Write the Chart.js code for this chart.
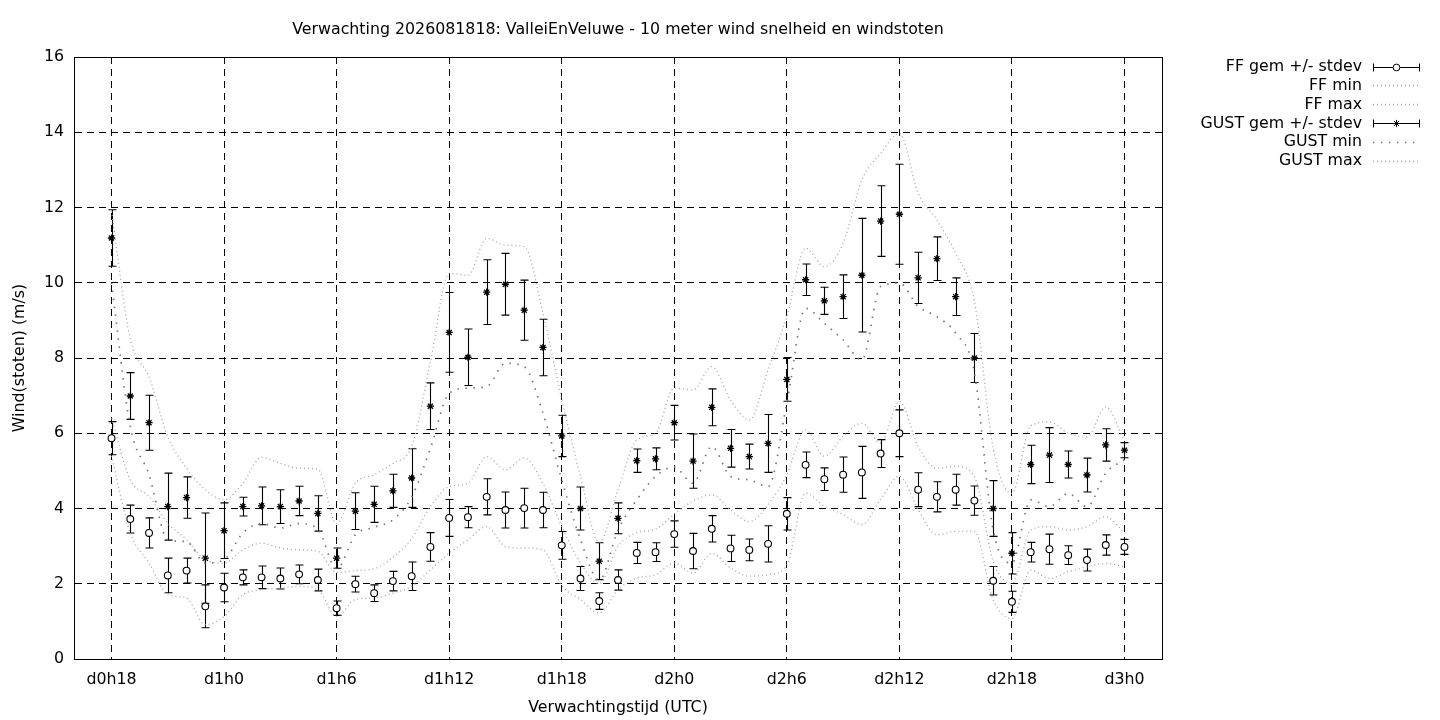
<!DOCTYPE html>
<html>
<head>
<meta charset="utf-8">
<title>Verwachting 2026081818 ValleiEnVeluwe</title>
<script src="https://cdn.jsdelivr.net/npm/chart.js@4.4.1/dist/chart.umd.min.js"></script>
<style>
  html, body { margin: 0; padding: 0; background: #fff; }
  #wrap { width: 1440px; height: 720px; }
</style>
</head>
<body>
<div id="wrap"><canvas id="chartWind" width="1440" height="720"></canvas></div>
<script>
// uren vanaf d0h0
const hours = [18, 19, 20, 21, 22, 23, 24, 25, 26, 27, 28, 29, 30, 31, 32, 33, 34, 35, 36, 37,
    38, 39, 40, 41, 42, 43, 44, 45, 46, 47, 48, 49, 50, 51, 52, 53, 54, 55, 56, 57,
    58, 59, 60, 61, 62, 63, 64, 65, 66, 67, 68, 69, 70, 71, 72];
const tickHours = [18, 24, 30, 36, 42, 48, 54, 60, 66, 72];
const tickLabels = ["d0h18", "d1h0", "d1h6", "d1h12", "d1h18", "d2h0", "d2h6", "d2h12", "d2h18", "d3h0"];

const ffMean = [5.87, 3.72, 3.35, 2.22, 2.35, 1.40, 1.90, 2.17, 2.17, 2.14,
    2.25, 2.10, 1.35, 1.99, 1.75, 2.07, 2.20, 2.98, 3.75, 3.77,
    4.31, 3.96, 4.01, 3.96, 3.02, 2.14, 1.54, 2.10, 2.82, 2.84,
    3.32, 2.87, 3.46, 2.94, 2.90, 3.06, 3.86, 5.16, 4.78, 4.90,
    4.96, 5.46, 6.00, 4.50, 4.31, 4.50, 4.21, 2.08, 1.52, 2.84,
    2.92, 2.76, 2.63, 3.03, 2.98];
const ffSd = [0.44, 0.37, 0.40, 0.46, 0.33, 0.57, 0.38, 0.20, 0.30, 0.28,
    0.25, 0.29, 0.19, 0.21, 0.22, 0.26, 0.38, 0.38, 0.49, 0.28,
    0.48, 0.48, 0.53, 0.47, 0.37, 0.32, 0.22, 0.27, 0.28, 0.25,
    0.35, 0.47, 0.35, 0.35, 0.29, 0.48, 0.43, 0.34, 0.30, 0.47,
    0.69, 0.37, 0.62, 0.45, 0.40, 0.41, 0.39, 0.38, 0.28, 0.26,
    0.40, 0.25, 0.29, 0.27, 0.20];
const ffMin = [5.40, 3.35, 2.55, 1.71, 1.62, 0.91, 1.13, 1.71, 1.84, 1.88,
    1.93, 1.85, 1.13, 1.58, 1.62, 1.75, 1.93, 2.37, 2.81, 3.17,
    3.52, 2.99, 2.95, 2.90, 1.95, 1.58, 1.22, 1.84, 2.15, 2.24,
    2.55, 2.28, 2.81, 2.42, 2.20, 2.24, 2.50, 4.41, 4.06, 3.84,
    3.57, 4.24, 4.86, 3.97, 3.30, 3.39, 3.39, 1.57, 1.08, 2.36,
    2.14, 2.32, 2.45, 2.54, 2.45];
const ffMax = [6.40, 4.76, 4.32, 3.61, 3.17, 2.64, 2.55, 2.90, 3.08, 2.95,
    2.90, 2.86, 2.30, 2.35, 2.40, 2.70, 3.20, 4.05, 4.58, 4.67,
    5.38, 5.03, 5.34, 4.67, 3.52, 2.55, 2.00, 3.00, 3.35, 3.45,
    3.85, 4.20, 4.36, 3.96, 3.65, 4.10, 4.90, 6.09, 5.39, 5.92,
    6.27, 5.74, 6.85, 5.65, 5.07, 5.12, 4.85, 2.60, 2.00, 3.43,
    3.52, 3.43, 3.52, 3.78, 3.35];

const gustMean = [11.19, 6.99, 6.28, 4.05, 4.29, 2.68, 3.41, 4.05, 4.07, 4.05,
    4.20, 3.87, 2.68, 3.93, 4.11, 4.47, 4.81, 6.72, 8.68, 8.02,
    9.75, 9.96, 9.27, 8.28, 5.93, 4.00, 2.60, 3.74, 5.27, 5.32,
    6.28, 5.26, 6.69, 5.60, 5.38, 5.73, 7.43, 10.08, 9.52, 9.63,
    10.20, 11.64, 11.82, 10.13, 10.64, 9.63, 8.00, 4.00, 2.81, 5.17,
    5.42, 5.17, 4.89, 5.69, 5.55];
const gustSd = [0.75, 0.62, 0.73, 0.89, 0.55, 1.20, 0.74, 0.25, 0.50, 0.45,
    0.39, 0.47, 0.27, 0.49, 0.48, 0.44, 0.78, 0.62, 1.06, 0.75,
    0.86, 0.82, 0.80, 0.75, 0.55, 0.57, 0.49, 0.41, 0.31, 0.29,
    0.46, 0.72, 0.49, 0.50, 0.33, 0.77, 0.58, 0.42, 0.36, 0.58,
    1.51, 0.94, 1.33, 0.68, 0.58, 0.50, 0.65, 0.74, 0.55, 0.51,
    0.73, 0.36, 0.45, 0.43, 0.20];
const gustMin = [10.00, 6.18, 4.90, 3.17, 3.12, 2.55, 2.64, 3.35, 3.60, 3.48,
    3.60, 3.45, 2.40, 3.30, 3.50, 3.70, 4.30, 5.60, 7.06, 7.20,
    7.24, 7.86, 7.77, 6.53, 4.76, 3.17, 2.10, 3.43, 4.23, 4.85,
    5.10, 4.67, 5.65, 4.85, 4.76, 4.58, 6.80, 9.32, 8.92, 8.48,
    7.95, 9.90, 9.99, 9.37, 9.10, 8.66, 7.60, 3.43, 2.55, 4.23,
    4.05, 4.40, 4.05, 4.94, 5.30];
const gustMax = [11.90, 8.50, 7.50, 5.91, 5.07, 4.50, 4.23, 4.67, 5.36, 5.20,
    5.07, 5.04, 3.60, 4.67, 4.90, 5.20, 5.65, 7.90, 10.25, 10.20,
    11.18, 11.00, 10.96, 9.19, 6.90, 4.85, 3.10, 4.50, 5.82, 6.00,
    7.20, 7.15, 7.77, 6.88, 6.35, 7.68, 9.10, 10.92, 10.43, 11.05,
    12.73, 13.44, 13.97, 12.38, 11.67, 10.78, 9.50, 5.60, 4.40, 6.20,
    6.30, 6.00, 5.90, 6.70, 5.80];

const legendLabels = ["FF gem +/- stdev", "FF min", "FF max", "GUST gem +/- stdev", "GUST min", "GUST max"];
const chartTitle = "Verwachting 2026081818: ValleiEnVeluwe - 10 meter wind snelheid en windstoten";

const FONT = { family: "'DejaVu Sans', sans-serif", size: 15.8 };
const FONT_CSS = "15.8px 'DejaVu Sans', sans-serif";
const lightDots = { color: '#a4a4a4', dash: [1, 3], width: 1.3 };
const darkDots = { color: '#777777', dash: [1.5, 6.5], width: 1.7 };
const CAP = 4;

const pts = (vals) => hours.map((h, i) => ({ x: h, y: vals[i] }));

const meanSet = (label, vals, style, radius, bw) => ({
    label: label,
    data: pts(vals),
    showLine: false,
    pointStyle: style,
    pointRadius: radius,
    pointBackgroundColor: '#fff',
    pointBorderColor: '#000',
    pointBorderWidth: bw,
    borderColor: '#000',
});

const envSet = (label, vals, st) => ({
    label: label,
    data: pts(vals),
    borderColor: st.color,
    borderWidth: st.width,
    borderDash: st.dash,
    pointRadius: 0,
    fill: false,
    cubicInterpolationMode: 'monotone',
});

// error bars (gem +/- stdev), drawn under the markers
const errorBars = {
    id: 'errorBars',
    beforeDatasetsDraw(chart) {
        const { ctx, chartArea, scales: { x, y } } = chart;
        ctx.save();
        ctx.beginPath();
        ctx.rect(chartArea.left, chartArea.top, chartArea.width, chartArea.height);
        ctx.clip();
        ctx.strokeStyle = '#000';
        ctx.lineWidth = 1.1;
        [[ffMean, ffSd], [gustMean, gustSd]].forEach(([m, s]) => {
            hours.forEach((h, i) => {
                const px = Math.round(x.getPixelForValue(h)) + 0.5;
                const top = y.getPixelForValue(m[i] + s[i]);
                const bot = y.getPixelForValue(m[i] - s[i]);
                ctx.beginPath();
                ctx.moveTo(px, top); ctx.lineTo(px, bot);
                ctx.moveTo(px - CAP, top); ctx.lineTo(px + CAP, top);
                ctx.moveTo(px - CAP, bot); ctx.lineTo(px + CAP, bot);
                ctx.stroke();
            });
        });
        ctx.restore();
    }
};

// frame, title and gnuplot style key
const decorations = {
    id: 'decorations',
    afterDraw(chart) {
        const { ctx, chartArea: a } = chart;
        ctx.save();
        ctx.strokeStyle = '#000';
        ctx.lineWidth = 1;
        ctx.setLineDash([]);
        ctx.strokeRect(Math.round(a.left) + 0.5, Math.round(a.top) + 0.5,
            Math.round(a.width), Math.round(a.height));

        ctx.fillStyle = '#000';
        ctx.font = FONT_CSS;
        ctx.textBaseline = 'middle';
        ctx.textAlign = 'center';
        ctx.fillText(chartTitle, (a.left + a.right) / 2, a.top - 27);

        const tx = a.right + 200, x0 = a.right + 211, x1 = a.right + 258;
        const styles = [null, lightDots, lightDots, null, darkDots, lightDots];
        const marks = ['circle', null, null, 'star', null, null];
        legendLabels.forEach((lab, i) => {
            const ly = a.top + 9.5 + i * 18.8;
            ctx.fillStyle = '#000';
            ctx.textAlign = 'right';
            ctx.fillText(lab, tx, ly + 0.5);
            const yy = Math.round(ly) + 0.5;
            if (styles[i]) {
                ctx.strokeStyle = styles[i].color;
                ctx.lineWidth = styles[i].width;
                ctx.setLineDash(styles[i].dash);
                ctx.beginPath(); ctx.moveTo(x0, yy); ctx.lineTo(x1, yy); ctx.stroke();
                ctx.setLineDash([]);
            } else {
                ctx.strokeStyle = '#000';
                ctx.lineWidth = 1;
                ctx.beginPath();
                ctx.moveTo(x0, yy); ctx.lineTo(x1, yy);
                ctx.moveTo(x0 + 0.5, yy - CAP); ctx.lineTo(x0 + 0.5, yy + CAP);
                ctx.moveTo(x1 - 0.5, yy - CAP); ctx.lineTo(x1 - 0.5, yy + CAP);
                ctx.stroke();
                ctx.fillStyle = '#fff';
                Chart.helpers.drawPoint(ctx, { pointStyle: marks[i], radius: marks[i] === 'star' ? 3.6 : 3.4, borderWidth: 1.1, rotation: 0 }, (x0 + x1) / 2, yy);
            }
        });
        ctx.restore();
    }
};

const ctxWind = document.getElementById("chartWind");
if (ctxWind) {
    new Chart(ctxWind, {
        type: 'line',
        data: {
            datasets: [
                envSet(legendLabels[1], ffMin, lightDots),
                envSet(legendLabels[2], ffMax, lightDots),
                envSet(legendLabels[4], gustMin, darkDots),
                envSet(legendLabels[5], gustMax, lightDots),
                meanSet(legendLabels[0], ffMean, 'circle', 3.4, 1.1),
                meanSet(legendLabels[3], gustMean, 'star', 3.6, 1.3),
            ],
        },
        options: {
            responsive: false,
            devicePixelRatio: 1,
            animation: false,
            events: [],
            layout: { padding: { top: 57, right: 278, left: 0, bottom: 0 } },
            plugins: {
                legend: { display: false },
                title: { display: false },
                tooltip: { enabled: false },
            },
            scales: {
                x: {
                    type: 'linear',
                    min: 16,
                    max: 74,
                    afterBuildTicks: (s) => { s.ticks = tickHours.map(v => ({ value: v })); },
                    afterFit: (s) => { s.height = 61; },
                    ticks: {
                        callback: (v) => tickLabels[tickHours.indexOf(v)],
                        color: '#000',
                        font: FONT,
                        padding: 11,
                        maxRotation: 0,
                        autoSkip: false,
                    },
                    grid: { color: '#000', lineWidth: 1, drawTicks: false },
                    border: { display: true, color: '#000', width: 1, dash: [7, 5] },
                    title: {
                        display: true,
                        text: 'Verwachtingstijd (UTC)',
                        color: '#000',
                        font: FONT,
                        padding: { top: 0, bottom: 3 },
                    },
                },
                y: {
                    min: 0,
                    max: 16,
                    afterFit: (s) => { s.width = 74; },
                    ticks: { stepSize: 2, color: '#000', font: FONT, padding: 10 },
                    grid: { color: '#000', lineWidth: 1, drawTicks: false },
                    border: { display: true, color: '#000', width: 1, dash: [7, 5] },
                    title: {
                        display: true,
                        text: 'Wind(stoten) (m/s)',
                        color: '#000',
                        font: FONT,
                        padding: { top: 10, bottom: 0 },
                    },
                },
            },
        },
        plugins: [errorBars, decorations],
    });
}
</script>
</body>
</html>
